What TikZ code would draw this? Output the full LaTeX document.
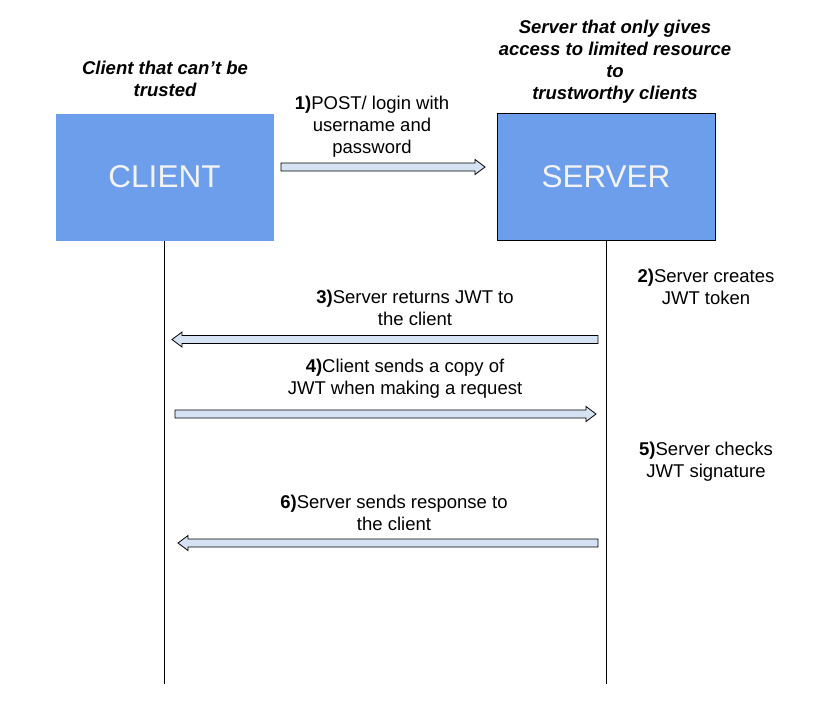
\documentclass[tikz,border=0pt]{standalone}
\usepackage{fontspec}
\setmainfont{Liberation Sans}
\usetikzlibrary{calc}
\definecolor{boxblue}{HTML}{6D9EEB}
\definecolor{boxtext}{HTML}{F3F3F3}
\definecolor{arrowfill}{HTML}{D4E2F4}
\tikzset{
	party/.style={fill=boxblue, inner sep=0pt, minimum width=218pt, minimum height=127pt, text=boxtext, font=\fontsize{31.5}{36}\selectfont},
	note/.style={align=center, inner sep=0pt, font=\fontsize{18.5}{22}\selectfont},
	title/.style={note, font=\fontsize{18.5}{22}\selectfont\bfseries\itshape},
	fatarrow/.style={draw=black, line width=0.8pt, fill=arrowfill, to path={
		let \p1=(\tikztostart), \p2=(\tikztotarget), \p3=($(\p2)!10pt!(\p1)$) in
		($(\p1)!4pt!90:(\p2)$) -- ($(\p3)!4pt!90:(\p2)$) -- ($(\p3)!7.5pt!90:(\p2)$) -- (\p2)
		-- ($(\p3)!7.5pt!-90:(\p2)$) -- ($(\p3)!4pt!-90:(\p2)$) -- ($(\p1)!4pt!-90:(\p2)$) -- cycle}}
}
\begin{document}
\begin{tikzpicture}[x=1pt, y=-1pt]
		\useasboundingbox[fill=white] (0,0) rectangle (820,720);

		\node[party] (client) at (164.5,177) {CLIENT};
		\node[party, draw=black, line width=0.8pt] (server) at (606,177) {SERVER};

		\node[title] (clienttitle) at (165,78.5) {Client that can’t be\\trusted};
		\node[title] (servertitle) at (615,61.5) {Server that only gives\\access to limited resource\\to\\trustworthy clients};

		\coordinate (clientend) at (164.5,684);
		\coordinate (serverend) at (606,684);
		\draw[line width=0.8pt] (client.south) -- (clientend);
		\draw[line width=0.8pt] (server.south) -- (serverend);

		\coordinate (p1s) at (281,167);
		\coordinate (p1e) at (485,167);
		\coordinate (p3s) at (598,339.5);
		\coordinate (p3e) at (172,339.5);
		\coordinate (p4s) at (175,414);
		\coordinate (p4e) at (596,414);
		\coordinate (p6s) at (598,543);
		\coordinate (p6e) at (178,543);

		\draw[fatarrow] (p1s) to (p1e);
		\draw[fatarrow] (p3s) to (p3e);
		\draw[fatarrow] (p4s) to (p4e);
		\draw[fatarrow] (p6s) to (p6e);

		\node[note] (msg1) at (372,126.5) {\textbf{1)}POST/ login with\\username and\\password};
		\node[note] (msg2) at (706,287) {\textbf{2)}Server creates\\JWT token};
		\node[note] (msg3) at (415,308) {\textbf{3)}Server returns JWT to\\the client};
		\node[note] (msg4) at (405,379) {\textbf{4)}Client sends a copy of\\JWT when making a request};
		\node[note] (msg5) at (706,462) {\textbf{5)}Server checks\\JWT signature};
		\node[note] (msg6) at (394,513) {\textbf{6)}Server sends response to\\the client};
	\end{tikzpicture}
\end{document}
